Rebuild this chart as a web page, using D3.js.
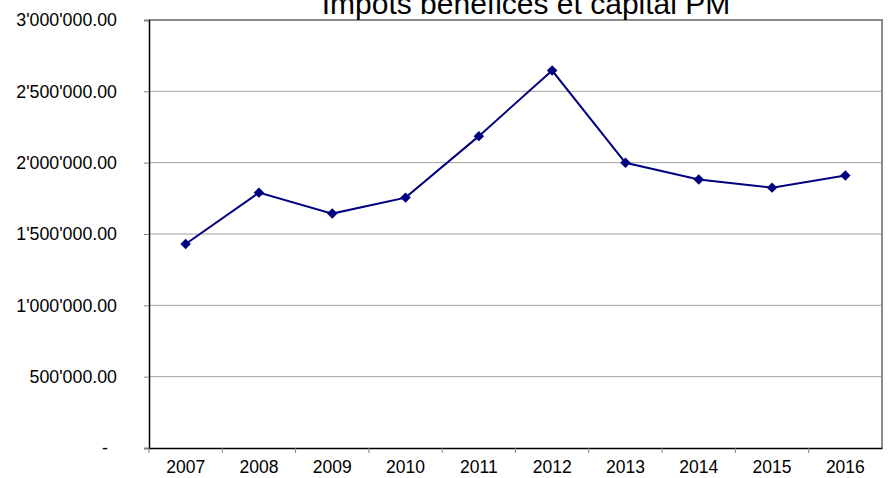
<!DOCTYPE html>
<html>
<head>
<meta charset="utf-8">
<script src="https://cdn.jsdelivr.net/npm/d3@7"></script>
<style>
  body { margin: 0; background: #fff; }
  text { font-family: "Liberation Sans", Arial, sans-serif; fill: #000; }
</style>
</head>
<body>
<svg width="896" height="478"></svg>
<script>
// data
const years = ["2007", "2008", "2009", "2010", "2011", "2012", "2013", "2014", "2015", "2016"];
const values = [1430000, 1790000, 1643000, 1755000, 2186000, 2646000, 1999000, 1882000, 1825000, 1910000];
const yTicks = [0, 500000, 1000000, 1500000, 2000000, 2500000, 3000000];
const title = "Impôts bénéfices et capital PM";

const svg = d3.select("svg");
const plotL = 149, plotR = 882, plotT = 20, plotB = 448;

const x = d3.scaleBand().domain(years).range([plotL, plotR]);
const y = d3.scaleLinear().domain([0, 3000000]).range([plotB, plotT]);

// swiss style number format
const fmt = d => d === 0 ? "-" : d3.format(",.2f")(d).replace(/,/g, "'");

// gridlines
svg.append("g")
  .selectAll("line")
  .data(yTicks.filter(d => d > 0 && d < 3000000))
  .enter().append("line")
  .attr("x1", plotL).attr("x2", plotR)
  .attr("y1", d => y(d)).attr("y2", d => y(d))
  .style("stroke", "#a0a0a0")
  .style("stroke-width", 1);

// plot frame top / right
svg.append("path")
  .attr("d", `M${plotL},${plotT}H${plotR}V${plotB}`)
  .style("fill", "none")
  .style("stroke", "#8c8c8c")
  .style("stroke-width", 2);

// y axis
const yAxis = svg.append("g")
  .attr("transform", `translate(${plotL},0)`)
  .call(d3.axisLeft(y).tickValues(yTicks).tickFormat(fmt).tickSize(5).tickPadding(27));
yAxis.select(".domain").style("stroke", "#000").style("stroke-width", 1.5);
yAxis.selectAll(".tick line").style("stroke", "#808080");
yAxis.selectAll(".tick text").style("font-size", "17.8px")
  .attr("dx", d => d === 0 ? -9 : 0);

// x axis
const xAxis = svg.append("g")
  .attr("transform", `translate(0,${plotB})`)
  .call(d3.axisBottom(x).tickSize(0).tickPadding(13));
xAxis.select(".domain").style("stroke", "#000").style("stroke-width", 1.5);
xAxis.selectAll(".tick text").style("font-size", "17.5px");
xAxis.append("g")
  .selectAll("line")
  .data(years)
  .enter().append("line")
  .attr("x1", d => x(d)).attr("x2", d => x(d))
  .attr("y1", 0).attr("y2", 5)
  .style("stroke", "#808080");

// line
const line = d3.line()
  .x((d, i) => x(years[i]) + x.bandwidth() / 2)
  .y(d => y(d));

svg.append("path")
  .datum(values)
  .attr("d", line)
  .style("fill", "none")
  .style("stroke", "#000080")
  .style("stroke-width", 2);

// diamond markers
svg.append("g")
  .selectAll("path")
  .data(values)
  .enter().append("path")
  .attr("d", d3.symbol().type(d3.symbolDiamond2).size(70))
  .attr("transform", (d, i) => `translate(${x(years[i]) + x.bandwidth() / 2},${y(d)})`)
  .style("fill", "#000080");

// title (cut at the top like the original)
svg.append("text")
  .attr("x", 526)
  .attr("y", 14)
  .attr("text-anchor", "middle")
  .style("font-size", "30px")
  .text(title);
</script>
</body>
</html>
